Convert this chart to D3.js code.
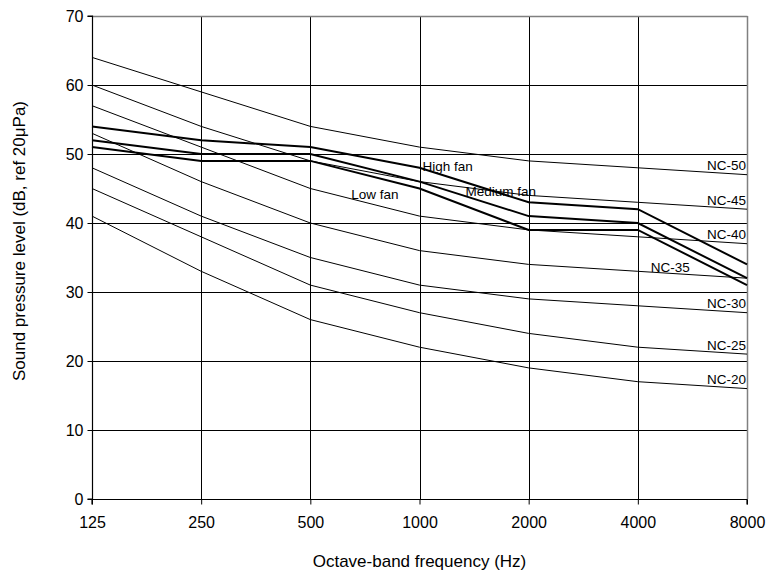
<!DOCTYPE html>
<html>
<head>
<meta charset="utf-8">
<script src="https://cdn.jsdelivr.net/npm/d3@7"></script>
<style>
  html, body { margin: 0; padding: 0; background: #fff; }
  svg { display: block; font-family: "Liberation Sans", Arial, sans-serif; }
</style>
</head>
<body>
<svg id="chart" width="769" height="581"></svg>
<script>
// ---- data ----
const frequencies = ["125", "250", "500", "1000", "2000", "4000", "8000"];
const yTicks = [0, 10, 20, 30, 40, 50, 60, 70];

const nc50 = [64, 59, 54, 51, 49, 48, 47];
const nc45 = [60, 54, 49, 46, 44, 43, 42];
const nc40 = [57, 51, 45, 41, 39, 38, 37];
const nc35 = [53, 46, 40, 36, 34, 33, 32];
const nc30 = [48, 41, 35, 31, 29, 28, 27];
const nc25 = [45, 38, 31, 27, 24, 22, 21];
const nc20 = [41, 33, 26, 22, 19, 17, 16];

const highFan   = [54, 52, 51, 48, 43, 42, 34];
const mediumFan = [52, 50, 50, 46, 41, 40, 32];
const lowFan    = [51, 49, 49, 45, 39, 39, 31];

const ncSeries = [
  { name: "NC-50", values: nc50 },
  { name: "NC-45", values: nc45 },
  { name: "NC-40", values: nc40 },
  { name: "NC-35", values: nc35 },
  { name: "NC-30", values: nc30 },
  { name: "NC-25", values: nc25 },
  { name: "NC-20", values: nc20 }
];
const fanSeries = [
  { name: "High fan", values: highFan },
  { name: "Medium fan", values: mediumFan },
  { name: "Low fan", values: lowFan }
];

// ---- layout ----
const svg = d3.select("#chart");
const margin = { left: 92, top: 16, right: 22, bottom: 82 };
const W = 769, H = 581;
const x0 = margin.left, x1 = W - margin.right;
const y0 = H - margin.bottom, y1 = margin.top;

const x = d3.scalePoint().domain(frequencies).range([x0, x1]).padding(0);
const y = d3.scaleLinear().domain([0, 70]).range([y0, y1]);

// grid
const grid = svg.append("g");
grid.selectAll("line.h").data(yTicks.filter(v => v > 0 && v < 70)).enter()
  .append("line").attr("class", "h")
  .attr("x1", x0).attr("x2", x1)
  .attr("y1", d => Math.round(y(d)) + 0.5).attr("y2", d => Math.round(y(d)) + 0.5)
  .attr("stroke", "#000").attr("stroke-width", 1);
grid.selectAll("line.v").data(frequencies.slice(1, -1)).enter()
  .append("line").attr("class", "v")
  .attr("y1", y1).attr("y2", y0)
  .attr("x1", d => Math.round(x(d)) + 0.5).attr("x2", d => Math.round(x(d)) + 0.5)
  .attr("stroke", "#000").attr("stroke-width", 1);

// border top / right (gray)
svg.append("line").attr("x1", x0).attr("x2", x1 + 0.5)
  .attr("y1", Math.round(y1) + 0.5).attr("y2", Math.round(y1) + 0.5)
  .attr("stroke", "#808080").attr("stroke-width", 1.5);
svg.append("line").attr("x1", Math.round(x1) + 0.5).attr("x2", Math.round(x1) + 0.5)
  .attr("y1", y1).attr("y2", y0)
  .attr("stroke", "#808080").attr("stroke-width", 1.5);

// axes
const yAxis = d3.axisLeft(y).tickValues(yTicks).tickSize(5).tickPadding(4);
const gy = svg.append("g").attr("transform", `translate(${Math.round(x0) + 0.5},0)`).call(yAxis);
const xAxis = d3.axisBottom(x).tickSize(5).tickPadding(12);
const gx = svg.append("g").attr("transform", `translate(0,${Math.round(y0) + 0.5})`).call(xAxis);
[gx, gy].forEach(g => {
  g.selectAll("path.domain").attr("stroke", "#000").attr("stroke-width", 1.2);
  g.selectAll(".tick line").attr("stroke", "#000");
  g.selectAll(".tick text").attr("font-size", 16).attr("fill", "#000")
    .attr("font-family", "'Liberation Sans', Arial, sans-serif");
});
gy.select("path.domain").attr("d", `M-5,${y0}H0V${y1}H-5`);
gx.select("path.domain").attr("d", `M${x0},5V0H${x1}V5`);

// lines
const line = d3.line().x((d, i) => x(frequencies[i])).y(d => y(d));
svg.append("g").selectAll("path").data(ncSeries).enter().append("path")
  .attr("d", d => line(d.values)).attr("fill", "none")
  .attr("stroke", "#000").attr("stroke-width", 1);
svg.append("g").selectAll("path").data(fanSeries).enter().append("path")
  .attr("d", d => line(d.values)).attr("fill", "none")
  .attr("stroke", "#000").attr("stroke-width", 2);

// NC labels
const lab = svg.append("g").attr("font-size", 13.5).attr("fill", "#000");
ncSeries.forEach(s => {
  if (s.name === "NC-35") {
    lab.append("text").attr("x", x("4000") + 13).attr("y", y(s.values[5]) + 1)
      .text(s.name);
  } else {
    lab.append("text").attr("x", x1 - 1).attr("y", y(s.values[6]) - 4.5)
      .attr("text-anchor", "end").text(s.name);
  }
});
// fan labels
lab.append("text").attr("x", x("1000") + 3).attr("y", y(highFan[3]) + 3.5).text("High fan");
lab.append("text").attr("x", x("1000") + 46).attr("y", y(mediumFan[3]) + 14.5).text("Medium fan");
lab.append("text").attr("x", x("500") + 41).attr("y", y(lowFan[2]) + 38).text("Low fan");

// axis titles
svg.append("text").attr("x", (x0 + x1) / 2).attr("y", 567)
  .attr("text-anchor", "middle").attr("font-size", 17).attr("fill", "#000")
  .text("Octave-band frequency (Hz)");
svg.append("text").attr("transform", `translate(25,241) rotate(-90)`)
  .attr("text-anchor", "middle").attr("font-size", 17).attr("fill", "#000")
  .text("Sound pressure level (dB, ref 20μPa)");
</script>
</body>
</html>
